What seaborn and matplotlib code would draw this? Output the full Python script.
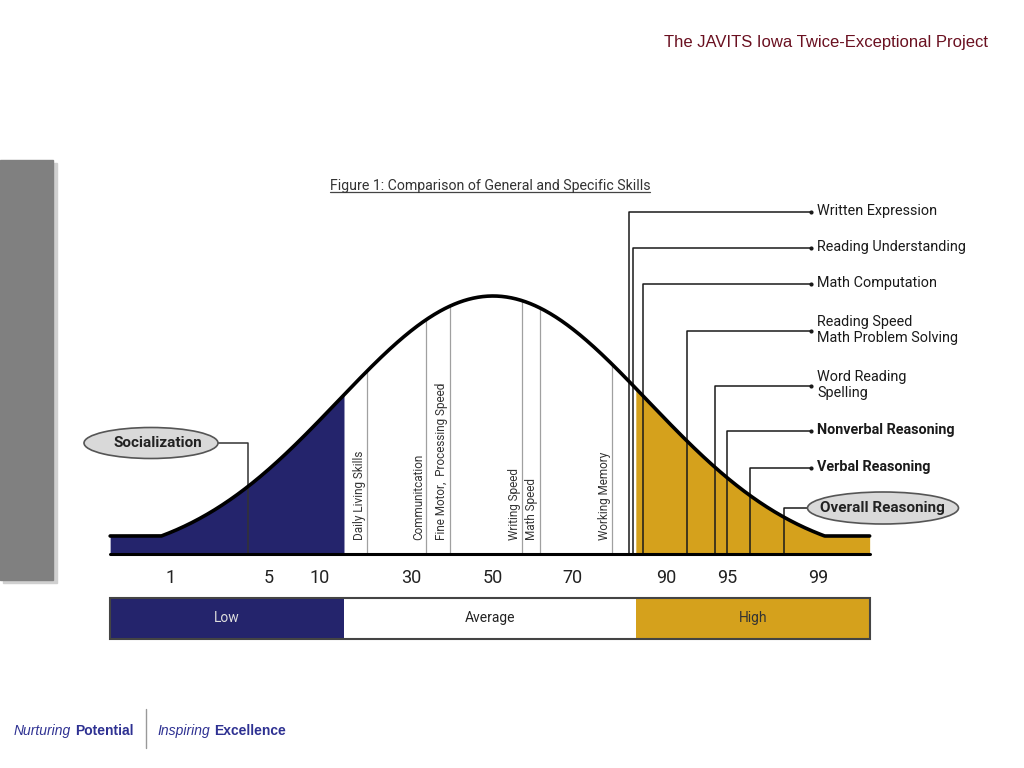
import numpy as np
import matplotlib
matplotlib.use("Agg")
import matplotlib.pyplot as plt
from matplotlib.patches import Ellipse, Rectangle
import seaborn as sns

# percentile scale printed under the curve (positions in standard-score units)
pct_labels = ["1", "5", "10", "30", "50", "70", "90", "95", "99"]
pct_pos = [-2.08, -1.45, -1.12, -0.53, 0.0, 0.51, 1.12, 1.51, 2.10]

# Low / Average / High bands
band_labels = ["Low", "Average", "High"]
band_edges = [-2.47, -0.96, 0.92, 2.43]

# skills in the average range (vertical labels)
mid_skills = ["Daily Living Skills", "Communitcation", "Fine Motor,  Processing Speed",
              "Writing Speed", "Math Speed", "Working Memory"]
mid_pos = [-0.81, -0.43, -0.28, 0.19, 0.30, 0.77]

# skills called out on the right
right_skills = ["Written Expression", "Reading Understanding", "Math Computation",
                "Reading Speed\nMath Problem Solving", "Word Reading\nSpelling",
                "Nonverbal Reasoning", "Verbal Reasoning"]
right_pos = [0.88, 0.90, 0.97, 1.25, 1.43, 1.51, 1.66]
right_bold = [False, False, False, False, False, True, True]

# the two circled skills
low_skill, low_pos = "Socialization", -1.58
top_skill, top_pos = "Overall Reasoning", 1.88

# bell curve shape
curve_floor = 18
curve_peak = 258
curve_cut = 2.14

NAVY = "#24246c"
GOLD = "#d5a11c"
FONT = "Roboto"

# page layout helpers: pixel -> data units
PX_SD = 155.0
X0, Y0 = 493.0, 554.0


def X(px):
    return (px - X0) / PX_SD


def Y(py):
    return Y0 - py


def curve_height(z):
    g = np.exp(-np.asarray(z) ** 2 / 2)
    g0 = np.exp(-curve_cut ** 2 / 2)
    return curve_floor + (curve_peak - curve_floor) * np.clip(g - g0, 0, None) / (1 - g0)


sns.set_theme(style="white")
plt.rcParams["font.family"] = [FONT, "DejaVu Sans"]

fig = plt.figure(figsize=(10.24, 7.68), dpi=100)
ax = fig.add_axes([0, 0, 1, 1])
ax.set_xlim(X(0), X(1024))
ax.set_ylim(Y(768), Y(0))
ax.axis("off")

# grey side bar with shadow
fig.patches.append(Rectangle((3 / 1024, 1 - 583 / 768), 54 / 1024, 420 / 768,
                             transform=fig.transFigure, color="#d0d0d0", zorder=0))
fig.patches.append(Rectangle((0, 1 - 580 / 768), 53 / 1024, 420 / 768,
                             transform=fig.transFigure, color="#808080", zorder=1))

# header
fig.text(988 / 1024, 1 - 42 / 768, "The JAVITS Iowa Twice-Exceptional Project",
         ha="right", va="center", fontsize=12, color="#6a1020", family="Liberation Sans")

# footer: italic word followed by bold word, two groups split by a rule
fig.canvas.draw()
renderer = fig.canvas.get_renderer()
foot_y = 1 - 731 / 768
for start, (w1, w2) in [(14, ("Nurturing", "Potential")), (157, ("Inspiring", "Excellence"))]:
    t = fig.text(start / 1024, foot_y, w1, ha="left", va="center", fontsize=10,
                 style="italic", color="#2e3192", family="Liberation Sans")
    end = t.get_window_extent(renderer).x1
    fig.text((end + 4) / 1024, foot_y, w2, ha="left", va="center", fontsize=10,
             weight="bold", color="#2e3192", family="Liberation Sans")
fig.lines.append(plt.Line2D([146 / 1024, 146 / 1024], [1 - 709 / 768, 1 - 748 / 768],
                            transform=fig.transFigure, color="#999999", lw=1))

# curve and fills
zs = np.linspace(band_edges[0], band_edges[-1], 800)
hs = curve_height(zs)
low = zs <= band_edges[1]
high = zs >= band_edges[2]
ax.fill_between(zs[low], 0, hs[low], color=NAVY, lw=0, zorder=1)
ax.fill_between(zs[high], 0, hs[high], color=GOLD, lw=0, zorder=1)

# vertical lines for average-range skills and their labels
for name, z in zip(mid_skills, mid_pos):
    ax.plot([z, z], [0, curve_height(z)], color="#a0a0a0", lw=0.9, zorder=2)
    ax.text(z - 0.008, 14, name, rotation=90, ha="right", va="bottom",
            fontsize=8.5, color="#333333")

# right-hand callouts
label_rows = [212, 248, 284, 331, 386, 431, 468]
for name, z, row, bold in zip(right_skills, right_pos, label_rows, right_bold):
    ax.plot([z, z, X(811)], [0, Y(row), Y(row)], color="#1a1a1a", lw=1.1, zorder=2)
    ax.text(X(817), Y(row) + 1, name, ha="left", va="center", fontsize=10.4,
            weight="bold" if bold else "normal", color="#1a1a1a", linespacing=1.2)
sns.scatterplot(x=[X(811)] * len(right_skills), y=[Y(r) for r in label_rows],
                color="#1a1a1a", s=9, linewidth=0, zorder=3, ax=ax, legend=False)

# Socialization callout
ax.plot([low_pos, low_pos, X(218)], [0, Y(443), Y(443)], color="#333333", lw=1.1, zorder=2)
ax.add_patch(Ellipse((X(151), Y(443)), 134 / PX_SD, 31, facecolor="#d9d9d9",
                     edgecolor="#555555", lw=1.2, zorder=3))
ax.text(X(158), Y(443), low_skill, ha="center", va="center", fontsize=11,
        weight="bold", color="#222222", zorder=4)

# Overall Reasoning callout
ax.plot([top_pos, top_pos, X(808)], [0, Y(508), Y(508)], color="#1a1a1a", lw=1.1, zorder=2)
ax.add_patch(Ellipse((X(883), Y(508)), 151 / PX_SD, 32, facecolor="#d9d9d9",
                     edgecolor="#555555", lw=1.2, zorder=3))
ax.text(X(882), Y(508), top_skill, ha="center", va="center", fontsize=11,
        weight="bold", color="#222222", zorder=4)

# curve outline and baseline
sns.lineplot(x=zs, y=hs, color="black", lw=2.6, ax=ax, zorder=5, legend=False)
ax.plot([band_edges[0], band_edges[-1]], [0, 0], color="black", lw=2.2, zorder=5)

# percentile numbers
for lab, z in zip(pct_labels, pct_pos):
    ax.text(z, Y(578), lab, ha="center", va="center", fontsize=13, color="#222222")

# Low / Average / High band
band_fill = [NAVY, "white", GOLD]
band_text = ["#dddddd", "#222222", "#333333"]
for i, lab in enumerate(band_labels):
    ax.add_patch(Rectangle((band_edges[i], Y(639)), band_edges[i + 1] - band_edges[i], 41,
                           facecolor=band_fill[i], edgecolor="none", zorder=2))
    ax.text((band_edges[i] + band_edges[i + 1]) / 2, Y(618), lab, ha="center",
            va="center", fontsize=10, color=band_text[i], zorder=3)
ax.add_patch(Rectangle((band_edges[0], Y(639)), band_edges[-1] - band_edges[0], 41,
                       facecolor="none", edgecolor="#444444", lw=1.5, zorder=4))

# figure title, underlined
title = ax.text(X(490), Y(186), "Figure 1: Comparison of General and Specific Skills",
                ha="center", va="center", fontsize=10.2, color="#333333")
fig.canvas.draw()
bb = title.get_window_extent().transformed(ax.transData.inverted())
ax.plot([bb.x0, bb.x1], [bb.y0 + 1, bb.y0 + 1], color="#444444", lw=0.9)

fig.savefig("out.png", dpi=100)
